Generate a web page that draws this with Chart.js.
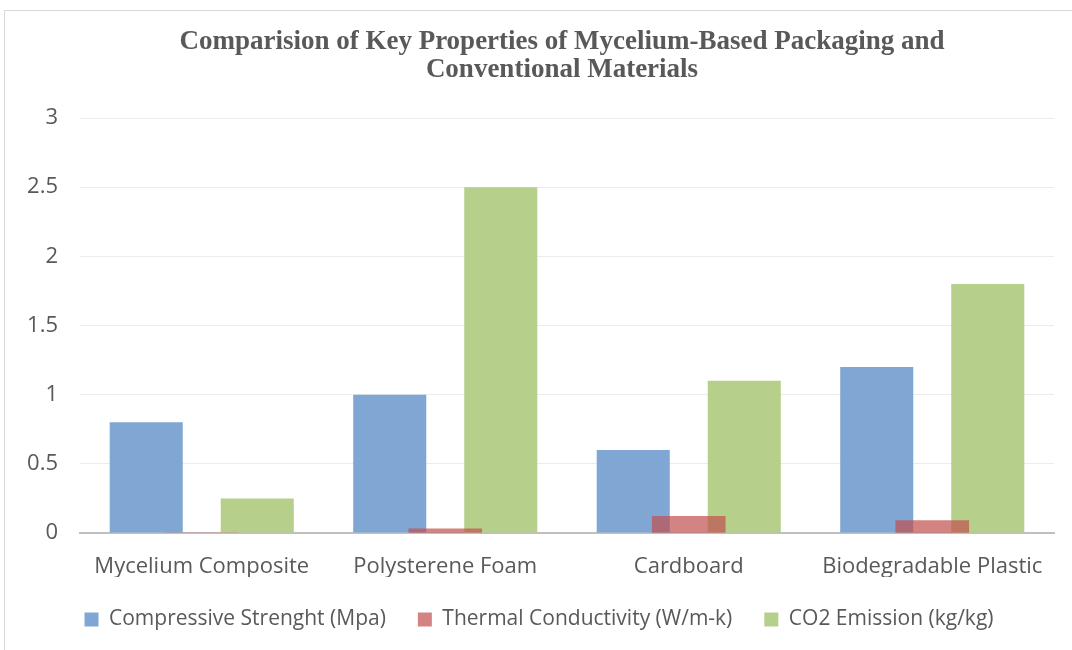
<!DOCTYPE html>
<html lang="en">
<head>
  <meta charset="UTF-8" />
  <title>Mycelium Packaging Comparison</title>
  <style>
    html, body {
      margin: 0;
      padding: 0;
      background: #ffffff;
      overflow: hidden;
    }
    .frame {
      position: absolute;
      left: 4px;
      top: 10px;
      width: 1100px;
      height: 640px;
      border-top: 1px solid #d9d9d9;
      border-left: 1px solid #d9d9d9;
    }
    .chart-title {
      position: absolute;
      left: 0;
      top: 26px;
      width: 1124px;
      margin: 0;
      text-align: center;
      font-family: "Liberation Serif", serif;
      font-weight: bold;
      font-size: 27px;
      line-height: 28px;
      color: #595959;
    }
  </style>
</head>
<body>
<div class="frame">
  <canvas id="propsChart"></canvas>
</div>
<h1 class="chart-title">Comparision of Key Properties of Mycelium-Based Packaging and<br>Conventional Materials</h1>

<script src="https://cdn.jsdelivr.net/npm/chart.js"></script>
<script>
  // data
  const materials = ['Mycelium Composite', 'Polysterene Foam', 'Cardboard', 'Biodegradable Plastic'];
  const compressiveStrength = [0.8, 1.0, 0.6, 1.2];
  const thermalConductivity = [0, 0.03, 0.12, 0.09];
  const co2Emission = [0.25, 2.5, 1.1, 1.8];
  const yTicks = [0, 0.5, 1, 1.5, 2, 2.5, 3];

  const tickFont = { family: '"Open Sans", sans-serif', size: 22 };
  const legendFont = { family: '"Open Sans", sans-serif', size: 21 };
  const textGrey = '#595959';

  const ctx = document.getElementById('propsChart').getContext('2d');
  const propsChart = new Chart(ctx, {
    type: 'bar',
    data: {
      labels: materials,
      datasets: [
        {
          label: 'Compressive Strenght (Mpa)',
          data: compressiveStrength,
          backgroundColor: '#80a6d3',
          categoryPercentage: 0.912,
          barPercentage: 0.658,
          order: 2
        },
        {
          // red bars sit over the middle of each group, see-through
          label: 'Thermal Conductivity (W/m-k)',
          data: thermalConductivity,
          backgroundColor: 'rgba(192, 80, 77, 0.7)',
          grouped: false,
          barThickness: 73,
          order: 1
        },
        {
          label: 'CO2 Emission (kg/kg)',
          data: co2Emission,
          backgroundColor: '#b6d08b',
          categoryPercentage: 0.912,
          barPercentage: 0.658,
          order: 3
        }
      ]
    },
    options: {
      responsive: true,
      maintainAspectRatio: false,
      animation: false,
      layout: {
        padding: { left: 19, right: 51, top: 107, bottom: 11 }
      },
      plugins: {
        title: { display: false },
        legend: {
          position: 'bottom',
          labels: {
            color: textGrey,
            font: legendFont,
            boxWidth: 14,
            boxHeight: 14,
            padding: 32,
            sort: (a, b) => a.datasetIndex - b.datasetIndex
          }
        },
        tooltip: { enabled: false }
      },
      scales: {
        x: {
          grid: { display: false, drawTicks: false },
          border: { color: '#c0c0c0', width: 2 },
          ticks: { color: textGrey, font: tickFont, padding: 21 },
          afterFit: axis => { axis.height = 44; }
        },
        y: {
          min: 0,
          max: 3,
          afterBuildTicks: axis => { axis.ticks = yTicks.map(v => ({ value: v })); },
          afterFit: axis => { axis.width = 56; },
          grid: { color: '#ececec', drawTicks: false },
          border: { display: false },
          ticks: { color: textGrey, font: tickFont, padding: 22, callback: v => String(v) }
        }
      }
    }
  });
</script>
</body>
</html>
